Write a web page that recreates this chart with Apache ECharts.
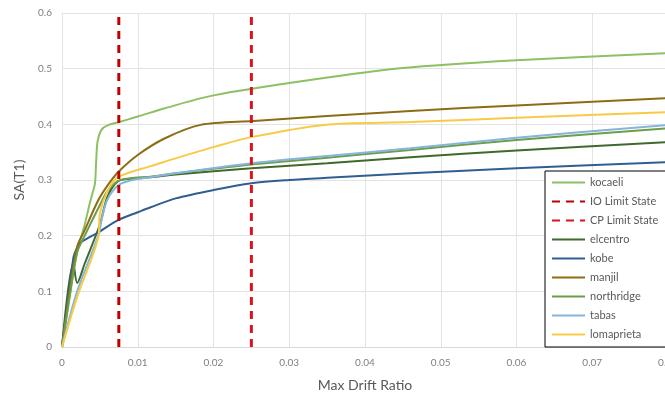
<!DOCTYPE html>
<html>
<head>
<meta charset="utf-8">
<script src="https://cdn.jsdelivr.net/npm/echarts@6/dist/echarts.min.js"></script>
<style>
  html, body { margin: 0; padding: 0; background: #fff; }
  #chart { width: 665px; height: 398px; }
</style>
</head>
<body>
<div id="chart"></div>
<script>
// [max drift ratio, SA(T1)]
const kocaeli = [[0,0],[0.001,0.09],[0.002,0.17],[0.003,0.22],[0.0037,0.26],[0.0043,0.29],[0.0044,0.30],[0.0045,0.33],[0.0047,0.37],[0.0052,0.39],[0.006,0.398],[0.0075,0.404],[0.01,0.414],[0.0136,0.429],[0.02,0.452],[0.0325,0.479],[0.045,0.501],[0.06,0.515],[0.08,0.528]];
const elcentro = [[0,0],[0.0015,0.15],[0.002,0.115],[0.003,0.15],[0.005,0.22],[0.006,0.27],[0.0074,0.298],[0.009,0.302],[0.0117,0.305],[0.015,0.31],[0.025,0.321],[0.035,0.33],[0.046,0.341],[0.06,0.353],[0.08,0.368]];
const kobe = [[0,0],[0.0015,0.16],[0.002,0.178],[0.0026,0.189],[0.0048,0.206],[0.0074,0.228],[0.01,0.242],[0.0117,0.251],[0.015,0.267],[0.02,0.282],[0.025,0.294],[0.03,0.3],[0.035,0.304],[0.046,0.312],[0.06,0.321],[0.08,0.332]];
const manjil = [[0,0],[0.001,0.1],[0.002,0.18],[0.003,0.21],[0.0048,0.264],[0.006,0.29],[0.0074,0.314],[0.01,0.345],[0.0136,0.375],[0.0183,0.399],[0.0253,0.406],[0.035,0.415],[0.046,0.424],[0.06,0.434],[0.08,0.447]];
const northridge = [[0,0],[0.001,0.09],[0.002,0.17],[0.003,0.2],[0.005,0.255],[0.006,0.28],[0.0074,0.298],[0.009,0.303],[0.0117,0.306],[0.015,0.312],[0.025,0.328],[0.035,0.34],[0.046,0.354],[0.06,0.372],[0.08,0.393]];
const tabas = [[0,0],[0.002,0.1],[0.0048,0.2],[0.0053,0.233],[0.006,0.265],[0.0074,0.29],[0.009,0.299],[0.0117,0.305],[0.015,0.312],[0.025,0.33],[0.035,0.343],[0.046,0.357],[0.06,0.376],[0.08,0.399]];
const lomaprieta = [[0,0],[0.002,0.09],[0.0048,0.198],[0.005,0.24],[0.006,0.28],[0.0074,0.305],[0.0117,0.325],[0.0136,0.333],[0.02,0.359],[0.025,0.377],[0.0346,0.399],[0.046,0.404],[0.06,0.412],[0.08,0.422]];

const ioLimit = 0.0075;
const cpLimit = 0.025;
const yTop = 0.6;

const font = 'Lato, "Open Sans", sans-serif';

function curve(name, data, color) {
  return {
    name, type: 'line', data, symbol: 'none', smooth: 0.3,
    lineStyle: { color, width: 2 }, itemStyle: { color }
  };
}

function limit(name, x, color) {
  return {
    name, type: 'line', data: [[x, 0], [x, yTop]], symbol: 'none',
    lineStyle: { color, width: 3, type: [8, 6] }, itemStyle: { color }
  };
}

const chart = echarts.init(document.getElementById('chart'));
chart.setOption({
  animation: false,
  textStyle: { fontFamily: font },
  grid: { left: 62, right: -3, top: 13, bottom: 51, outerBoundsMode: 'none', containLabel: false },
  xAxis: {
    type: 'value', min: 0, max: 0.08, interval: 0.01,
    name: 'Max Drift Ratio', nameLocation: 'middle', nameGap: 31,
    nameTextStyle: { color: '#595959', fontSize: 14, fontFamily: font },
    axisLine: { lineStyle: { color: '#d9d9d9' } },
    axisTick: { show: false },
    axisLabel: { color: '#7f7f7f', fontSize: 10, margin: 11 },
    splitLine: { show: true, lineStyle: { color: '#e3e3e3' } }
  },
  yAxis: {
    type: 'value', min: 0, max: yTop, interval: 0.1,
    name: 'SA(T1)', nameLocation: 'middle', nameGap: 36,
    nameTextStyle: { color: '#595959', fontSize: 14, fontFamily: font },
    axisLine: { show: false },
    axisTick: { show: false },
    axisLabel: { color: '#7f7f7f', fontSize: 10, margin: 10 },
    splitLine: { lineStyle: { color: '#e3e3e3' } }
  },
  legend: {
    orient: 'vertical', left: 545, top: 171,
    backgroundColor: '#fff', borderColor: '#000', borderWidth: 1,
    padding: [6, 8, 7, 6], itemGap: 8, itemWidth: 33, itemHeight: 11,
    itemStyle: { opacity: 0 },
    textStyle: { color: '#595959', fontSize: 11, fontFamily: font },
    data: ['kocaeli', 'IO Limit State', 'CP Limit State', 'elcentro', 'kobe', 'manjil', 'northridge', 'tabas', 'lomaprieta']
  },
  series: [
    curve('kocaeli', kocaeli, '#8DC063'),
    curve('elcentro', elcentro, '#3F6A2C'),
    curve('kobe', kobe, '#2F5F8F'),
    curve('manjil', manjil, '#8C6D14'),
    curve('northridge', northridge, '#6B9E4A'),
    curve('tabas', tabas, '#86B4DC'),
    curve('lomaprieta', lomaprieta, '#F7CB45'),
    limit('IO Limit State', ioLimit, '#C00000'),
    limit('CP Limit State', cpLimit, '#D8141C')
  ]
});
</script>
</body>
</html>
